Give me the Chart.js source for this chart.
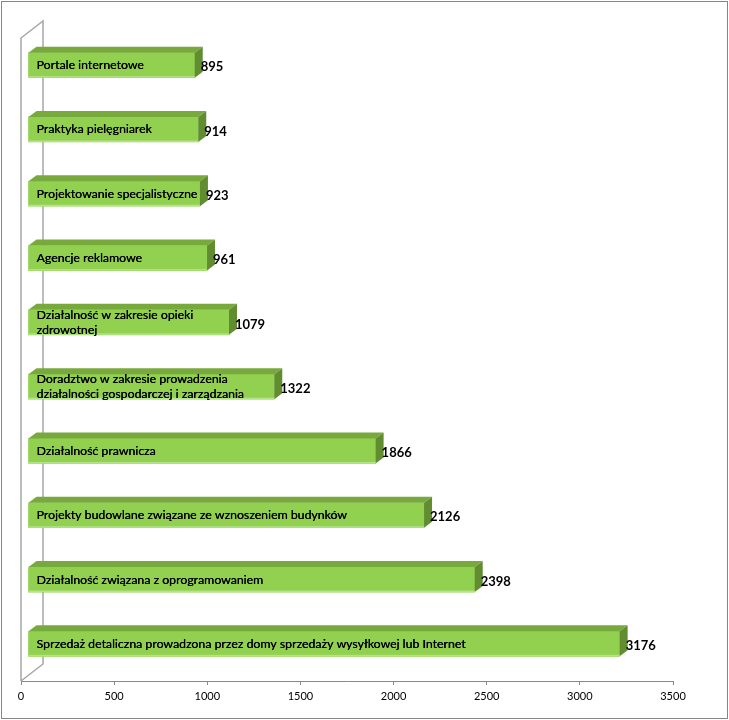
<!DOCTYPE html>
<html><head><meta charset="utf-8">
<script src="https://cdn.jsdelivr.net/npm/chart.js@4"></script>
<style>html,body{margin:0;padding:0;background:#fff}canvas{display:block}</style>
</head><body>
<canvas id="c" width="729" height="720"></canvas>
<script>
const categories = [
  ["Portale internetowe"],
  ["Praktyka pielęgniarek"],
  ["Projektowanie specjalistyczne"],
  ["Agencje reklamowe"],
  ["Działalność w zakresie opieki", "zdrowotnej"],
  ["Doradztwo w zakresie prowadzenia", "działalności gospodarczej i zarządzania"],
  ["Działalność prawnicza"],
  ["Projekty budowlane związane ze wznoszeniem budynków"],
  ["Działalność związana z oprogramowaniem"],
  ["Sprzedaż detaliczna prowadzona przez domy sprzedaży wysyłkowej lub Internet"]
];
const values = [895, 914, 923, 961, 1079, 1322, 1866, 2126, 2398, 3176];
const xMin = 0, xMax = 3500, xStep = 500;

const SHIFT_X = 7, SHIFT_Y = -5;      // bar front plane offset
const DEP_X = 8, DEP_Y = -6;          // bar depth
const WALL_X = 22, WALL_Y = -17;      // back wall offset

const bar3d = {
  id: 'bar3d',
  beforeDraw(chart) {
    const ctx = chart.ctx;
    ctx.save();
    ctx.fillStyle = '#fff';
    ctx.fillRect(0, 0, chart.width, chart.height);
    ctx.strokeStyle = '#868686';
    ctx.lineWidth = 1;
    ctx.strokeRect(1.5, 1.5, chart.width - 3, chart.height - 3);
    ctx.restore();
  },
  beforeDatasetsDraw(chart) {
    const ctx = chart.ctx, a = chart.chartArea;
    ctx.save();
    ctx.strokeStyle = '#a6a6a6';
    ctx.lineWidth = 1.5;
    ctx.beginPath();
    ctx.moveTo(a.left, a.bottom);
    ctx.lineTo(a.left, a.top);
    ctx.lineTo(a.left + WALL_X, a.top + WALL_Y);
    ctx.lineTo(a.left + WALL_X, a.bottom + WALL_Y);
    ctx.lineTo(a.left, a.bottom);
    ctx.stroke();
    ctx.restore();
    ctx.save();
    ctx.translate(SHIFT_X, SHIFT_Y);
  },
  afterDatasetsDraw(chart) {
    const ctx = chart.ctx;
    const meta = chart.getDatasetMeta(0);
    meta.data.forEach((bar, i) => {
      const x0 = bar.base, x1 = bar.x;
      const yt = bar.y - bar.height / 2, yb = bar.y + bar.height / 2;
      ctx.fillStyle = '#78a93d';
      ctx.beginPath();
      ctx.moveTo(x0, yt);
      ctx.lineTo(x0 + DEP_X, yt + DEP_Y);
      ctx.lineTo(x1 + DEP_X, yt + DEP_Y);
      ctx.lineTo(x1, yt);
      ctx.closePath();
      ctx.fill();
      ctx.fillStyle = '#618d30';
      ctx.beginPath();
      ctx.moveTo(x1, yt);
      ctx.lineTo(x1 + DEP_X, yt + DEP_Y);
      ctx.lineTo(x1 + DEP_X, yb + DEP_Y);
      ctx.lineTo(x1, yb);
      ctx.closePath();
      ctx.fill();
      ctx.fillStyle = '#b4e38a';
      ctx.fillRect(x0, yb - 1.5, x1 - x0, 1.5);
      ctx.fillStyle = '#000';
      ctx.font = '12.3px Lato';
      ctx.textAlign = 'left';
      ctx.textBaseline = 'middle';
      const lines = categories[i];
      const lh = 15;
      lines.forEach((ln, k) => {
        const y = bar.y + (k - (lines.length - 1) / 2) * lh;
        ctx.fillText(ln, x0 + 8, y);
        ctx.fillText(ln, x0 + 8.3, y);
      });
      ctx.font = 'bold 13px Lato';
      ctx.fillText(String(values[i]), x1 + 6, bar.y + 2);
    });
    ctx.restore();
  }
};

new Chart(document.getElementById('c'), {
  type: 'bar',
  data: {
    labels: categories,
    datasets: [{
      data: values,
      backgroundColor: '#92d050',
      borderWidth: 0,
      barThickness: 25
    }]
  },
  options: {
    indexAxis: 'y',
    responsive: false,
    animation: false,
    devicePixelRatio: 1,
    layout: { padding: { left: 21, right: 56, top: 38, bottom: 0 } },
    plugins: { legend: { display: false }, tooltip: { enabled: false } },
    scales: {
      y: { display: false },
      x: {
        min: xMin, max: xMax,
        afterFit(scale) { scale.height = 39; },
        ticks: { stepSize: xStep, color: '#000', font: { family: 'Lato', size: 11 }, padding: 5, maxRotation: 0,
                 callback: (v) => String(v) },
        grid: { drawOnChartArea: false, drawTicks: true, tickLength: 4, color: '#898989' },
        border: { display: true, color: '#898989', width: 1 }
      }
    }
  },
  plugins: [bar3d]
});
</script>
</body></html>
